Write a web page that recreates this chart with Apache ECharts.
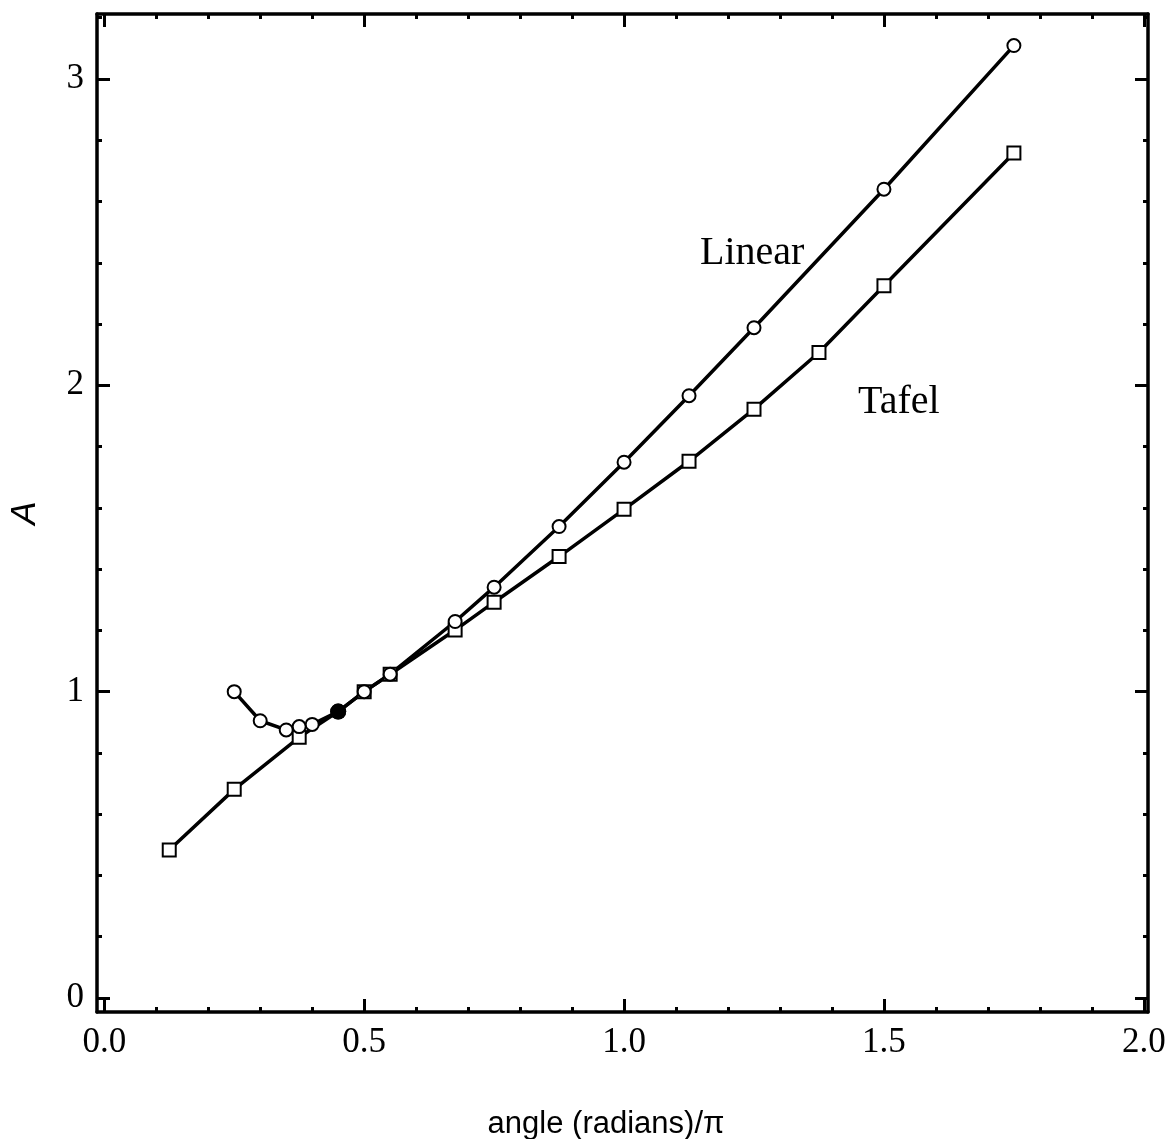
<!DOCTYPE html>
<html>
<head>
<meta charset="utf-8">
<script src="https://cdn.jsdelivr.net/npm/echarts@6/dist/echarts.min.js"></script>
<style>
    html, body { margin: 0; padding: 0; background: #fff; }
    #chart { width: 1170px; height: 1139px; }
</style>
</head>
<body>
<div id="chart"></div>
<script>
// values
var xLinear = [0.25, 0.3, 0.35, 0.375, 0.4, 0.45, 0.5, 0.55, 0.675, 0.75, 0.875, 1.0, 1.125, 1.25, 1.5, 1.75];
var yLinear = [1.0, 0.905, 0.875, 0.886, 0.893, 0.935, 1.0, 1.057, 1.229, 1.341, 1.539, 1.749, 1.966, 2.188, 2.640, 3.109];

var xTafel = [0.125, 0.25, 0.375, 0.45, 0.5, 0.55, 0.675, 0.75, 0.875, 1.0, 1.125, 1.25, 1.375, 1.5, 1.75];
var yTafel = [0.483, 0.681, 0.851, 0.935, 1.0, 1.057, 1.201, 1.292, 1.441, 1.595, 1.752, 1.922, 2.107, 2.325, 2.758];

var xMajor = [0, 0.5, 1, 1.5, 2];
var xMinor = [0.1, 0.2, 0.3, 0.4, 0.6, 0.7, 0.8, 0.9, 1.1, 1.2, 1.3, 1.4, 1.6, 1.7, 1.8, 1.9];
var yMajor = [0, 1, 2, 3];
var yMinor = [0.2, 0.4, 0.6, 0.8, 1.2, 1.4, 1.6, 1.8, 2.2, 2.4, 2.6, 2.8, 3.2];

var chart = echarts.init(document.getElementById('chart'));

var X_MIN = -0.014, X_MAX = 2.008;
var Y_MIN = -0.0457, Y_MAX = 3.212;
var serif = '"Liberation Serif", "Times New Roman", serif';

function makeAxis(pos, min, max, ticks, len, withLine, labels, fmt) {
    return {
        type: 'value',
        position: pos,
        min: min,
        max: max,
        axisLine: {show: withLine, onZero: false, lineStyle: {color: '#000', width: 3.5}},
        axisTick: {show: true, inside: true, length: len, customValues: ticks,
            lineStyle: {color: '#000', width: 3}},
        axisLabel: labels ? {show: true, customValues: labels, formatter: fmt,
            color: '#000', fontFamily: serif, fontSize: 35, margin: 13} : {show: false},
        splitLine: {show: false}
    };
}

function pairs(xs, ys) {
    return xs.map(function (x, i) {
        var p = {value: [x, ys[i]]};
        // the 0.45 point shows as a filled blob in the scan
        if (x === 0.45) {
            p.symbol = 'circle';
            p.symbolSize = 16;
            p.itemStyle = {color: '#000'};
        }
        return p;
    });
}

var option = {
    backgroundColor: '#fff',
    animation: false,
    grid: {left: 97, right: 22, top: 14, bottom: 127, containLabel: false},
    xAxis: [
        makeAxis('bottom', X_MIN, X_MAX, xMajor, 13, true, xMajor, function (v) { return v.toFixed(1); }),
        makeAxis('bottom', X_MIN, X_MAX, xMinor, 5, false),
        makeAxis('top', X_MIN, X_MAX, xMajor, 13, true),
        makeAxis('top', X_MIN, X_MAX, xMinor, 5, false)
    ],
    yAxis: [
        makeAxis('left', Y_MIN, Y_MAX, yMajor, 13, true, yMajor, function (v) { return String(v); }),
        makeAxis('left', Y_MIN, Y_MAX, yMinor, 5, false),
        makeAxis('right', Y_MIN, Y_MAX, yMajor, 13, true),
        makeAxis('right', Y_MIN, Y_MAX, yMinor, 5, false)
    ],
    series: [
        {
            name: 'Tafel',
            type: 'line',
            xAxisIndex: 0,
            yAxisIndex: 0,
            data: pairs(xTafel, yTafel),
            symbol: 'emptyRect',
            symbolSize: 13,
            showAllSymbol: true,
            lineStyle: {color: '#000', width: 3.5},
            itemStyle: {color: '#000', borderWidth: 3}
        },
        {
            name: 'Linear',
            type: 'line',
            xAxisIndex: 0,
            yAxisIndex: 0,
            data: pairs(xLinear, yLinear),
            symbol: 'emptyCircle',
            symbolSize: 13,
            showAllSymbol: true,
            lineStyle: {color: '#000', width: 3.5},
            itemStyle: {color: '#000', borderWidth: 3}
        }
    ],
    graphic: [
        {type: 'text', x: 700, y: 253, style: {text: 'Linear', font: '40px ' + serif,
            fill: '#000', textAlign: 'left', textVerticalAlign: 'middle'}},
        {type: 'text', x: 858, y: 402, style: {text: 'Tafel', font: '40px ' + serif,
            fill: '#000', textAlign: 'left', textVerticalAlign: 'middle'}},
        {type: 'text', x: 606, y: 1124, style: {text: 'angle (radians)/\u03c0',
            font: '31px "Liberation Sans", Arial, sans-serif',
            fill: '#000', textAlign: 'center', textVerticalAlign: 'middle'}},
        {type: 'text', x: 25, y: 513, rotation: Math.PI / 2, style: {text: 'A',
            font: 'italic 35px "Liberation Sans", Arial, sans-serif',
            fill: '#000', textAlign: 'center', textVerticalAlign: 'middle'}}
    ]
};

chart.setOption(option);
</script>
</body>
</html>
